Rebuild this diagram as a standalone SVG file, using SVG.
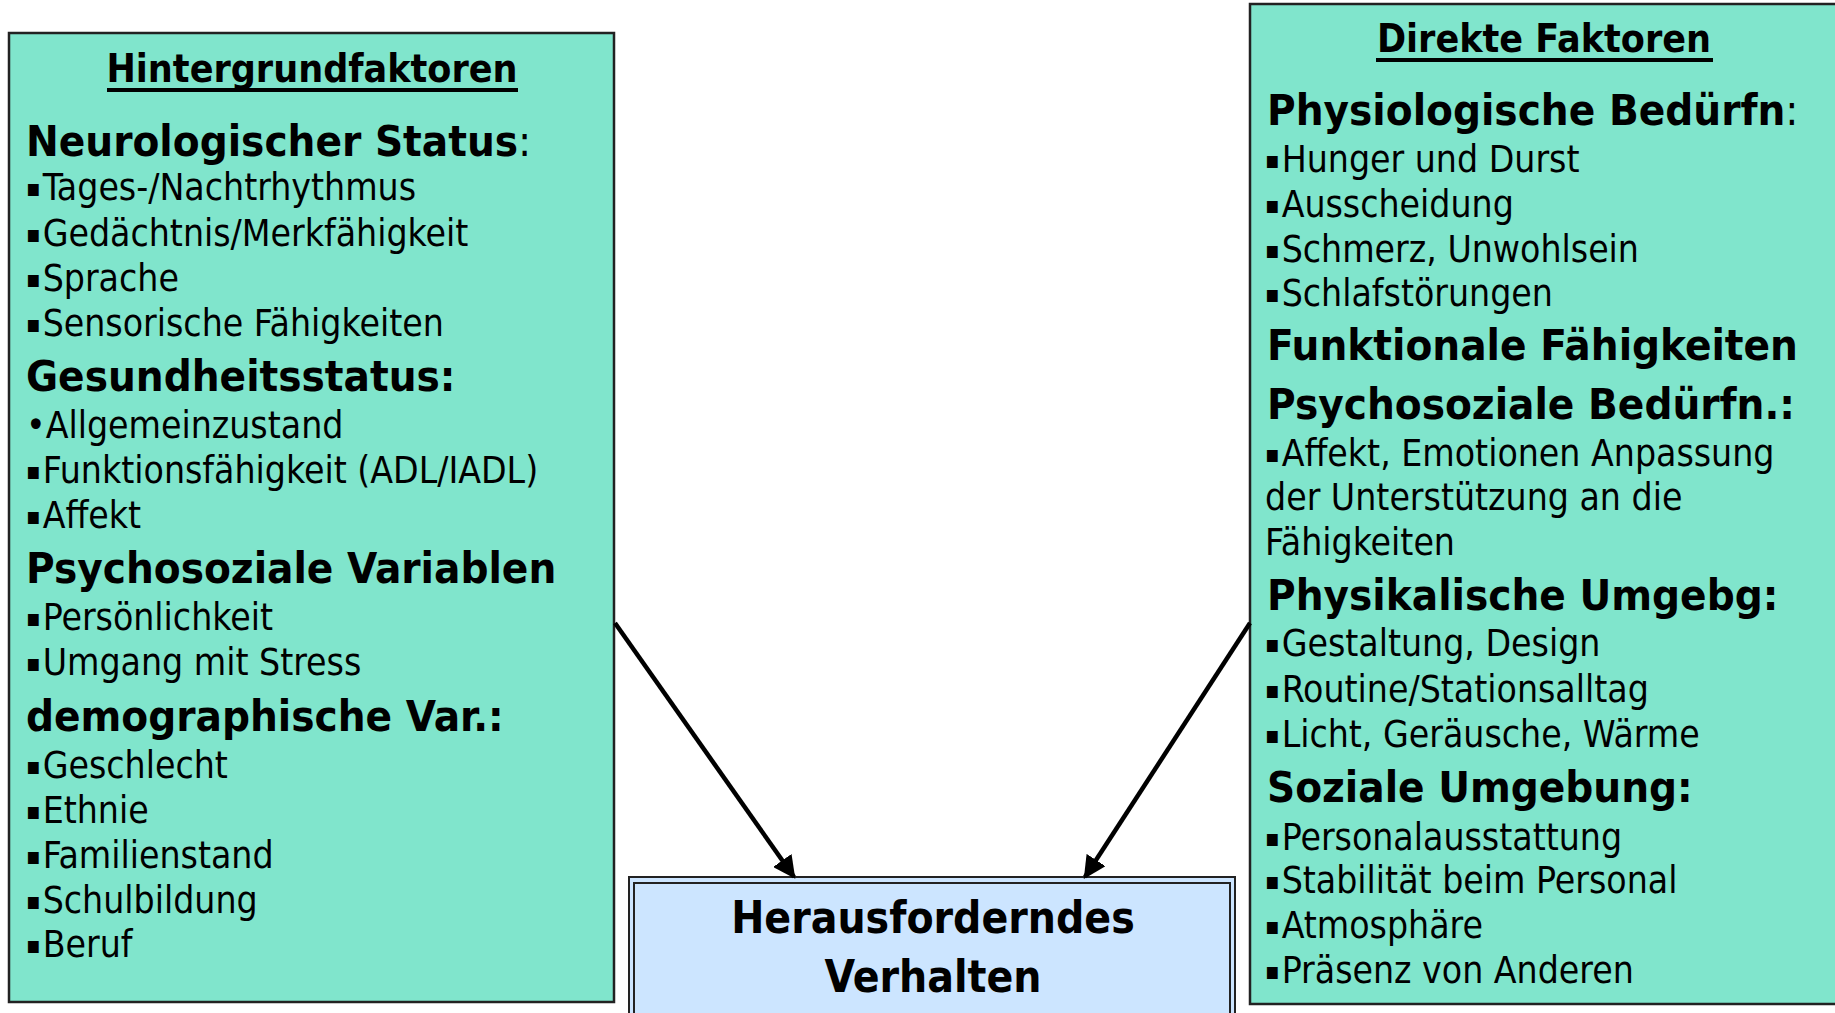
<svg xmlns="http://www.w3.org/2000/svg" width="1835" height="1013" viewBox="0 0 1835 1013">
<defs>
<style>
.box{fill:#80E5CC;stroke:#222;stroke-width:2.5}
.t{font-family:"DejaVu Sans Condensed","DejaVu Sans",sans-serif;font-stretch:condensed;fill:#000}
.item{font-size:37px}
.b{font-size:24px}
.head{font-size:43.5px;font-weight:bold}
.title{font-size:39px;font-weight:bold}
.ul{fill:#000}
.center{font-size:44px;font-weight:bold}
.conn{stroke:#000;stroke-width:4.5;fill:none}
.nw{font-weight:normal}
</style>
<marker id="ah" viewBox="0 0 10 10" refX="9" refY="5" markerWidth="5" markerHeight="5" orient="auto" markerUnits="strokeWidth">
<path d="M0,0 L10,5 L0,10 z" fill="#000"/>
</marker>
</defs>
<rect width="1835" height="1013" fill="#fff"/>
<g id="left-box">
<rect class="box" x="9" y="33" width="605" height="969"/>
<text class="t title" x="312" y="82" text-anchor="middle">Hintergrundfaktoren</text>
<rect class="ul" x="107" y="88" width="411" height="4"/>
<text class="t head" x="26" y="156">Neurologischer Status<tspan class="nw">:</tspan></text>
<text class="t item" x="26" y="200"><tspan class="b" dy="-4">▪</tspan><tspan dx="2" dy="4">Tages-/Nachtrhythmus</tspan></text>
<text class="t item" x="26" y="246"><tspan class="b" dy="-4">▪</tspan><tspan dx="2" dy="4">Gedächtnis/Merkfähigkeit</tspan></text>
<text class="t item" x="26" y="291"><tspan class="b" dy="-4">▪</tspan><tspan dx="2" dy="4">Sprache</tspan></text>
<text class="t item" x="26" y="336"><tspan class="b" dy="-4">▪</tspan><tspan dx="2" dy="4">Sensorische Fähigkeiten</tspan></text>
<text class="t head" x="26" y="391">Gesundheitsstatus:</text>
<text class="t item" x="26" y="438">•Allgemeinzustand</text>
<text class="t item" x="26" y="483"><tspan class="b" dy="-4">▪</tspan><tspan dx="2" dy="4">Funktionsfähigkeit (ADL/IADL)</tspan></text>
<text class="t item" x="26" y="528"><tspan class="b" dy="-4">▪</tspan><tspan dx="2" dy="4">Affekt</tspan></text>
<text class="t head" x="26" y="583">Psychosoziale Variablen</text>
<text class="t item" x="26" y="630"><tspan class="b" dy="-4">▪</tspan><tspan dx="2" dy="4">Persönlichkeit</tspan></text>
<text class="t item" x="26" y="675"><tspan class="b" dy="-4">▪</tspan><tspan dx="2" dy="4">Umgang mit Stress</tspan></text>
<text class="t head" x="26" y="731">demographische Var.:</text>
<text class="t item" x="26" y="778"><tspan class="b" dy="-4">▪</tspan><tspan dx="2" dy="4">Geschlecht</tspan></text>
<text class="t item" x="26" y="823"><tspan class="b" dy="-4">▪</tspan><tspan dx="2" dy="4">Ethnie</tspan></text>
<text class="t item" x="26" y="868"><tspan class="b" dy="-4">▪</tspan><tspan dx="2" dy="4">Familienstand</tspan></text>
<text class="t item" x="26" y="913"><tspan class="b" dy="-4">▪</tspan><tspan dx="2" dy="4">Schulbildung</tspan></text>
<text class="t item" x="26" y="957"><tspan class="b" dy="-4">▪</tspan><tspan dx="2" dy="4">Beruf</tspan></text>
</g>
<g id="right-box">
<rect class="box" x="1250" y="4" width="590" height="1000"/>
<text class="t title" x="1544" y="52" text-anchor="middle">Direkte Faktoren</text>
<rect class="ul" x="1376" y="58" width="337" height="4"/>
<text class="t head" x="1267" y="125">Physiologische Bedürfn<tspan class="nw">:</tspan></text>
<text class="t item" x="1265" y="172"><tspan class="b" dy="-4">▪</tspan><tspan dx="2" dy="4">Hunger und Durst</tspan></text>
<text class="t item" x="1265" y="217"><tspan class="b" dy="-4">▪</tspan><tspan dx="2" dy="4">Ausscheidung</tspan></text>
<text class="t item" x="1265" y="262"><tspan class="b" dy="-4">▪</tspan><tspan dx="2" dy="4">Schmerz, Unwohlsein</tspan></text>
<text class="t item" x="1265" y="306"><tspan class="b" dy="-4">▪</tspan><tspan dx="2" dy="4">Schlafstörungen</tspan></text>
<text class="t head" x="1267" y="360">Funktionale Fähigkeiten</text>
<text class="t head" x="1267" y="419">Psychosoziale Bedürfn.:</text>
<text class="t item" x="1265" y="466"><tspan class="b" dy="-4">▪</tspan><tspan dx="2" dy="4">Affekt, Emotionen Anpassung</tspan></text>
<text class="t item" x="1265" y="510">der Unterstützung an die</text>
<text class="t item" x="1265" y="555">Fähigkeiten</text>
<text class="t head" x="1267" y="610">Physikalische Umgebg:</text>
<text class="t item" x="1265" y="656"><tspan class="b" dy="-4">▪</tspan><tspan dx="2" dy="4">Gestaltung, Design</tspan></text>
<text class="t item" x="1265" y="702"><tspan class="b" dy="-4">▪</tspan><tspan dx="2" dy="4">Routine/Stationsalltag</tspan></text>
<text class="t item" x="1265" y="747"><tspan class="b" dy="-4">▪</tspan><tspan dx="2" dy="4">Licht, Geräusche, Wärme</tspan></text>
<text class="t head" x="1267" y="802">Soziale Umgebung:</text>
<text class="t item" x="1265" y="850"><tspan class="b" dy="-4">▪</tspan><tspan dx="2" dy="4">Personalausstattung</tspan></text>
<text class="t item" x="1265" y="893"><tspan class="b" dy="-4">▪</tspan><tspan dx="2" dy="4">Stabilität beim Personal</tspan></text>
<text class="t item" x="1265" y="938"><tspan class="b" dy="-4">▪</tspan><tspan dx="2" dy="4">Atmosphäre</tspan></text>
<text class="t item" x="1265" y="983"><tspan class="b" dy="-4">▪</tspan><tspan dx="2" dy="4">Präsenz von Anderen</tspan></text>
</g>
<g id="center-box">
<rect x="629" y="877" width="606" height="145" fill="#CCE5FF" stroke="#222" stroke-width="2"/>
<rect x="634" y="883" width="596" height="135" fill="none" stroke="#222" stroke-width="2"/>
<text class="t center" x="933" y="933" text-anchor="middle">Herausforderndes</text>
<text class="t center" x="933" y="992" text-anchor="middle">Verhalten</text>
</g>
<g id="connectors">
<line class="conn" x1="615" y1="623" x2="794" y2="877" marker-end="url(#ah)"/>
<line class="conn" x1="1250" y1="623" x2="1085" y2="877" marker-end="url(#ah)"/>
</g>
</svg>
